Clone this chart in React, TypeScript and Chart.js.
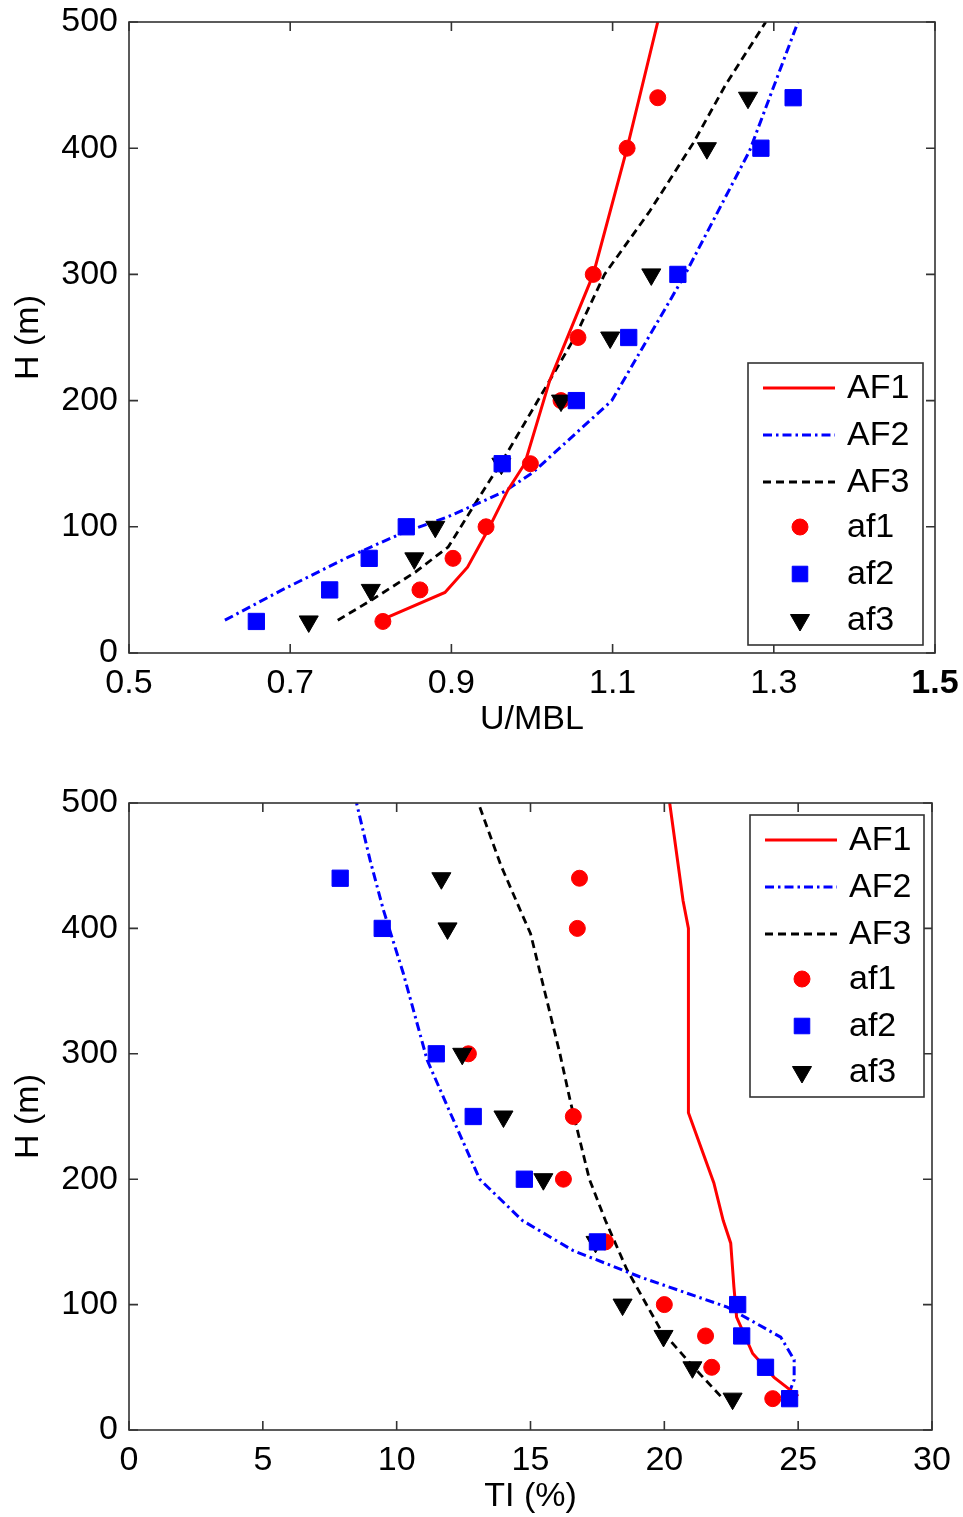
import React, { useEffect, useRef } from 'react';
import { Chart, registerables } from 'chart.js';

Chart.register(...registerables);

// ---------- data ----------
const LEGEND_LABELS = ['AF1', 'AF2', 'AF3', 'af1', 'af2', 'af3'];

// measurement heights (m)
const H_MEAS = [25, 50, 75, 100, 150, 200, 250, 300, 400, 440];

// top panel: U/MBL
const U_af1 = [0.815, 0.861, 0.902, 0.943, 0.998, 1.036, 1.057, 1.076, 1.118, 1.156];
const U_af2 = [0.658, 0.749, 0.798, 0.844, 0.963, 1.055, 1.12, 1.181, 1.284, 1.324];
const U_af3 = [0.723, 0.8, 0.854, 0.88, 0.962, 1.036, 1.097, 1.148, 1.217, 1.268];

const H_U_AF1 = [25, 48, 68, 97, 129, 150, 216, 300, 400, 500];
const U_AF1 = [0.809, 0.892, 0.92, 0.945, 0.97, 0.991, 1.022, 1.076, 1.118, 1.156];
const H_U_AF2 = [26, 50, 76, 95, 108, 128, 143, 200, 300, 398, 500];
const U_AF2 = [0.619, 0.69, 0.772, 0.839, 0.896, 0.966, 1.001, 1.099, 1.19, 1.27, 1.33];
const H_U_AF3 = [26, 42, 64, 84, 127, 153, 216, 250, 300, 350, 404, 450, 500];
const U_AF3 = [0.759, 0.801, 0.855, 0.896, 0.938, 0.964, 1.022, 1.053, 1.09, 1.146, 1.2, 1.24, 1.29];

// bottom panel: TI (%)
const TI_af1 = [24.05, 21.77, 21.54, 20.0, 17.8, 16.23, 16.6, 12.68, 16.75, 16.83];
const TI_af2 = [24.68, 23.78, 22.89, 22.74, 17.5, 14.77, 12.86, 11.48, 9.46, 7.89];
const TI_af3 = [22.55, 21.05, 19.97, 18.44, 17.43, 15.48, 13.99, 12.45, 11.9, 11.67];

const H_TI_AF1 = [27, 42, 61, 90, 114, 149, 167, 197, 253, 300, 350, 400, 422, 500];
const TI_AF1 = [25.0, 24.1, 23.3, 22.7, 22.6, 22.48, 22.2, 21.85, 20.9, 20.9, 20.9, 20.9, 20.7, 20.2];
const H_TI_AF2 = [29, 40, 56, 74, 98, 122, 143, 167, 200, 253, 295, 364, 415, 455, 500];
const TI_AF2 = [24.65, 24.85, 24.85, 24.35, 22.35, 19.1, 16.6, 14.7, 13.1, 12.0, 11.14, 10.25, 9.5, 9.0, 8.5];
const H_TI_AF3 = [27, 50, 80, 128, 167, 200, 261, 300, 396, 409, 450, 500];
const TI_AF3 = [22.1, 21.1, 19.86, 18.6, 17.8, 17.2, 16.5, 16.1, 15.0, 14.73, 13.9, 13.05];

const U_TICKS = [0.5, 0.7, 0.9, 1.1, 1.3, 1.5];
const TI_TICKS = [0, 5, 10, 15, 20, 25, 30];
const H_TICKS = [0, 100, 200, 300, 400, 500];

// ---------- helpers ----------
const FONT = "'Liberation Sans', Arial, Helvetica, sans-serif";
const FS = 34;

const pts = (xs: number[], ys: number[]) => xs.map((x, i) => ({ x, y: ys[i] }));

function buildDatasets(lines: { x: number[]; y: number[] }[], marks: { x: number[]; y: number[] }[]) {
  return [
    { label: LEGEND_LABELS[0], data: pts(lines[0].x, lines[0].y), showLine: true, borderColor: '#ff0000', backgroundColor: '#ff0000', borderWidth: 3, pointRadius: 0, order: 2, legendType: 'line' },
    { label: LEGEND_LABELS[1], data: pts(lines[1].x, lines[1].y), showLine: true, borderColor: '#0000ff', backgroundColor: '#0000ff', borderWidth: 3, borderDash: [9, 4, 2.5, 4], pointRadius: 0, order: 2, legendType: 'line' },
    { label: LEGEND_LABELS[2], data: pts(lines[2].x, lines[2].y), showLine: true, borderColor: '#000000', backgroundColor: '#000000', borderWidth: 2.8, borderDash: [8, 5], pointRadius: 0, order: 2, legendType: 'line' },
    { label: LEGEND_LABELS[3], data: pts(marks[0].x, marks[0].y), showLine: false, pointStyle: 'circle', pointRadius: 8, pointBackgroundColor: '#ff0000', pointBorderColor: '#ff0000', pointBorderWidth: 1, order: 1, legendType: 'point' },
    { label: LEGEND_LABELS[4], data: pts(marks[1].x, marks[1].y), showLine: false, pointStyle: 'rect', pointRadius: 11.5, pointBackgroundColor: '#0000ff', pointBorderColor: '#0000ff', pointBorderWidth: 1, order: 0, legendType: 'point' },
    { label: LEGEND_LABELS[5], data: pts(marks[2].x, marks[2].y), showLine: false, pointStyle: 'triangle', pointRotation: 180, pointRadius: 11, pointBackgroundColor: '#000000', pointBorderColor: '#000000', pointBorderWidth: 1, order: 0, legendType: 'point' },
  ];
}

function drawMarker(ctx: CanvasRenderingContext2D, style: string, x: number, y: number, r: number, rot: number) {
  ctx.beginPath();
  if (style === 'circle') {
    ctx.arc(x, y, r, 0, Math.PI * 2);
  } else if (style === 'rect') {
    const s = Math.SQRT1_2 * r;
    ctx.rect(x - s, y - s, 2 * s, 2 * s);
  } else {
    let rad = (rot * Math.PI) / 180;
    ctx.moveTo(x + Math.sin(rad) * r, y - Math.cos(rad) * r);
    rad += (2 * Math.PI) / 3;
    ctx.lineTo(x + Math.sin(rad) * r, y - Math.cos(rad) * r);
    rad += (2 * Math.PI) / 3;
    ctx.lineTo(x + Math.sin(rad) * r, y - Math.cos(rad) * r);
    ctx.closePath();
  }
  ctx.fill();
  ctx.stroke();
}

const framePlugin = {
  id: 'matFrame',
  afterDatasetsDraw(chart: any) {
    const { ctx, chartArea } = chart;
    const { left, right, top, bottom } = chartArea;
    const xs = chart.scales.x;
    const ys = chart.scales.y;
    const L = 9;
    ctx.save();
    ctx.strokeStyle = '#333333';
    ctx.lineWidth = 1.6;
    ctx.beginPath();
    xs.ticks.forEach((t: any) => {
      const p = xs.getPixelForValue(t.value);
      ctx.moveTo(p, bottom);
      ctx.lineTo(p, bottom - L);
      ctx.moveTo(p, top);
      ctx.lineTo(p, top + L);
    });
    ys.ticks.forEach((t: any) => {
      const p = ys.getPixelForValue(t.value);
      ctx.moveTo(left, p);
      ctx.lineTo(left + L, p);
      ctx.moveTo(right, p);
      ctx.lineTo(right - L, p);
    });
    ctx.stroke();
    ctx.strokeRect(left, top, right - left, bottom - top);
    ctx.restore();

    // legend (MATLAB style, inside the axes)
    const lg = chart.options.plugins.matLegend;
    if (!lg) return;
    const bx = right - lg.dx;
    const by = lg.anchor === 'bottom' ? bottom - lg.dy : top + lg.dy;
    const w = lg.w;
    const h = lg.h;
    ctx.save();
    ctx.fillStyle = '#ffffff';
    ctx.fillRect(bx, by, w, h);
    ctx.strokeStyle = '#333333';
    ctx.lineWidth = 1.6;
    ctx.strokeRect(bx, by, w, h);
    const rows = [25, 72, 119, 164, 211, 257];
    chart.data.datasets.forEach((ds: any, i: number) => {
      const cy = by + rows[i];
      if (ds.legendType === 'line') {
        ctx.save();
        ctx.strokeStyle = ds.borderColor;
        ctx.lineWidth = ds.borderWidth;
        ctx.setLineDash(ds.borderDash || []);
        ctx.beginPath();
        ctx.moveTo(bx + 15, cy);
        ctx.lineTo(bx + 87, cy);
        ctx.stroke();
        ctx.restore();
      } else {
        ctx.save();
        ctx.fillStyle = ds.pointBackgroundColor;
        ctx.strokeStyle = ds.pointBorderColor;
        ctx.lineWidth = 1;
        const r = ds.pointStyle === 'circle' ? 8 : 11;
        drawMarker(ctx, ds.pointStyle, bx + 52, cy, r, ds.pointRotation || 0);
        ctx.restore();
      }
      ctx.fillStyle = '#000000';
      ctx.font = `${FS}px ${FONT}`;
      ctx.textAlign = 'left';
      ctx.textBaseline = 'middle';
      ctx.fillText(ds.label, bx + 99, cy + 1);
    });
    ctx.restore();
  },
};

function makeConfig(p: {
  datasets: any[];
  xMin: number;
  xMax: number;
  xTicks: number[];
  xTitle: string;
  padTop: number;
  padRight: number;
  xHeight: number;
  xTickPad: number;
  xTitlePad: number;
  boldLast: boolean;
  legend: any;
}) {
  return {
    type: 'scatter' as const,
    data: { datasets: p.datasets },
    plugins: [framePlugin],
    options: {
      responsive: false,
      animation: false as const,
      layout: { padding: { left: 0, top: p.padTop, right: p.padRight, bottom: 0 } },
      plugins: {
        legend: { display: false },
        tooltip: { enabled: false },
        matLegend: p.legend,
      },
      scales: {
        x: {
          type: 'linear' as const,
          min: p.xMin,
          max: p.xMax,
          grid: { display: false, drawTicks: false },
          border: { display: false },
          afterBuildTicks: (s: any) => {
            s.ticks = p.xTicks.map((v) => ({ value: v }));
          },
          afterFit: (s: any) => {
            s.height = p.xHeight;
            s.paddingLeft = 0;
            s.paddingRight = 0;
          },
          ticks: {
            padding: p.xTickPad,
            color: '#000',
            maxRotation: 0,
            autoSkip: false,
            callback: (v: any) => String(v),
            font: (c: any) => ({
              family: FONT,
              size: FS,
              weight: p.boldLast && c.tick && c.tick.value === p.xMax ? 'bold' : 'normal',
            }),
          },
          title: {
            display: true,
            text: p.xTitle,
            color: '#000',
            font: { family: FONT, size: FS },
            padding: { top: 0, bottom: p.xTitlePad },
          },
        },
        y: {
          type: 'linear' as const,
          min: 0,
          max: 500,
          grid: { display: false, drawTicks: false },
          border: { display: false },
          afterBuildTicks: (s: any) => {
            s.ticks = H_TICKS.map((v) => ({ value: v }));
          },
          afterFit: (s: any) => {
            s.width = 129;
            s.paddingTop = 0;
            s.paddingBottom = 0;
          },
          ticks: {
            padding: 11,
            color: '#000',
            autoSkip: false,
            callback: (v: any) => String(v),
            font: { family: FONT, size: FS },
          },
          title: {
            display: true,
            text: 'H (m)',
            color: '#000',
            font: { family: FONT, size: FS },
            padding: { top: 8, bottom: 0 },
          },
        },
      },
    },
  };
}

function PlotCanvas({ config, width, height, top }: { config: any; width: number; height: number; top: number }) {
  const ref = useRef<HTMLCanvasElement | null>(null);
  useEffect(() => {
    if (!ref.current) return;
    const chart = new Chart(ref.current, config);
    return () => chart.destroy();
  }, [config]);
  return (
    <canvas
      ref={ref}
      width={width}
      height={height}
      style={{ position: 'absolute', left: 0, top, width, height }}
    />
  );
}

const topConfig = makeConfig({
  datasets: buildDatasets(
    [
      { x: U_AF1, y: H_U_AF1 },
      { x: U_AF2, y: H_U_AF2 },
      { x: U_AF3, y: H_U_AF3 },
    ],
    [
      { x: U_af1, y: H_MEAS },
      { x: U_af2, y: H_MEAS },
      { x: U_af3, y: H_MEAS },
    ]
  ),
  xMin: 0.5,
  xMax: 1.5,
  xTicks: U_TICKS,
  xTitle: 'U/MBL',
  padTop: 22,
  padRight: 28,
  xHeight: 107,
  xTickPad: 10,
  xTitlePad: 20,
  boldLast: true,
  legend: { anchor: 'bottom', dx: 187, dy: 290, w: 175, h: 282 },
});

const bottomConfig = makeConfig({
  datasets: buildDatasets(
    [
      { x: TI_AF1, y: H_TI_AF1 },
      { x: TI_AF2, y: H_TI_AF2 },
      { x: TI_AF3, y: H_TI_AF3 },
    ],
    [
      { x: TI_af1, y: H_MEAS },
      { x: TI_af2, y: H_MEAS },
      { x: TI_af3, y: H_MEAS },
    ]
  ),
  xMin: 0,
  xMax: 30,
  xTicks: TI_TICKS,
  xTitle: 'TI (%)',
  padTop: 43,
  padRight: 31,
  xHeight: 87,
  xTickPad: 10,
  xTitlePad: 0,
  boldLast: false,
  legend: { anchor: 'top', dx: 182, dy: 12, w: 174, h: 282 },
});

export default function App() {
  return (
    <div style={{ position: 'absolute', left: 0, top: 0, width: 963, height: 1517, background: '#fff' }}>
      <PlotCanvas config={topConfig} width={963} height={760} top={0} />
      <PlotCanvas config={bottomConfig} width={963} height={757} top={760} />
    </div>
  );
}
